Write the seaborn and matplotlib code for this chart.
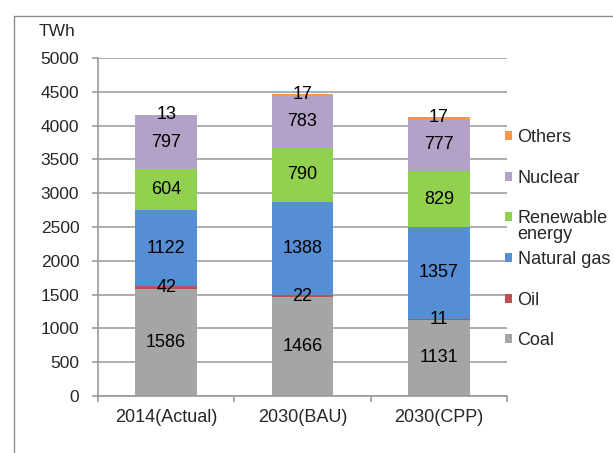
import numpy as np
import pandas as pd
import matplotlib
matplotlib.use("Agg")
import matplotlib.pyplot as plt
from matplotlib.patches import Patch
from matplotlib.lines import Line2D
import seaborn as sns

categories = ["2014(Actual)", "2030(BAU)", "2030(CPP)"]
coal = [1586, 1466, 1131]
oil = [42, 22, 11]
natural_gas = [1122, 1388, 1357]
renewable = [604, 790, 829]
nuclear = [797, 783, 777]
others = [13, 17, 17]

series_names = ["Coal", "Oil", "Natural gas", "Renewable energy", "Nuclear", "Others"]
series_values = [coal, oil, natural_gas, renewable, nuclear, others]
colors = ["#A5A5A5", "#C0504D", "#558ED5", "#92D050", "#B3A2C7", "#F79646"]
yticks = [0, 500, 1000, 1500, 2000, 2500, 3000, 3500, 4000, 4500, 5000]

sns.set_style("white")
plt.rcParams["font.family"] = ["Liberation Sans", "DejaVu Sans"]
plt.rcParams["font.size"] = 13

fig = plt.figure(figsize=(6.13, 4.53), dpi=100)
ax = fig.add_axes([98 / 613, 1 - 396 / 453, 409 / 613, 338 / 453])

bottom = np.zeros(len(categories))
for name, vals, col in zip(series_names, series_values, colors):
    vals = np.array(vals, dtype=float)
    sns.barplot(x=categories, y=vals, bottom=bottom, color=col, width=0.45,
                order=categories, ax=ax, saturation=1, linewidth=0, label=name)
    bottom = bottom + vals

for cont, vals in zip(ax.containers, series_values):
    ax.bar_label(cont, labels=[str(v) for v in vals], label_type="center",
                 fontsize=13, color="black")

ax.set_ylim(0, 5000)
ax.set_xlim(-0.5, 2.5)
ax.set_yticks(yticks)
ax.set_yticklabels([str(t) for t in yticks])
ax.set_xlabel("")
ax.set_ylabel("")
ax.yaxis.grid(True, color="#A0A0A0", linewidth=1.2)
ax.set_axisbelow(True)
for s in ["top", "right"]:
    ax.spines[s].set_visible(False)
for s in ["left", "bottom"]:
    ax.spines[s].set_color("#9A9A9A")
    ax.spines[s].set_linewidth(1.2)

ax.tick_params(axis="y", which="major", length=4.5, width=1.2, color="#9A9A9A",
               pad=9, labelsize=12.5, left=True)
ax.tick_params(axis="x", which="major", length=0, pad=9, labelsize=13)
ax.set_xticks([-0.5, 0.5, 1.5, 2.5], minor=True)
ax.tick_params(axis="x", which="minor", length=4.5, width=1.2, color="#9A9A9A",
               bottom=True)

fig.text(39 / 613, 1 - 31 / 453, "TWh", ha="left", va="center", fontsize=12.5)

# legend (reversed order)
handles = [Patch(facecolor=c, edgecolor="none") for c in colors][::-1]
labels = ["Others", "Nuclear", "Renewable", "Natural gas", "Oil", "Coal"]
leg = ax.legend(handles, labels, loc="upper left", bbox_to_anchor=(0.995, 0.79),
                frameon=False, borderpad=0, borderaxespad=0,
                handlelength=0.4, handleheight=0.4, handletextpad=0.3,
                labelspacing=1.31, fontsize=13)
leg.set_zorder(5)
ren_text = leg.get_texts()[2]
ax.annotate("energy", xy=(0, 0), xycoords=ren_text, xytext=(0, 1),
            textcoords="offset points", ha="left", va="top", fontsize=13,
            zorder=10, annotation_clip=False)

# outer frame of the figure (cropped on the right and bottom)
fig.add_artist(Line2D([13.5 / 613, 13.5 / 613], [0, 1 - 15.5 / 453],
                      transform=fig.transFigure, color="#8C8C8C", linewidth=1))
fig.add_artist(Line2D([13.5 / 613, 1], [1 - 15.5 / 453, 1 - 15.5 / 453],
                      transform=fig.transFigure, color="#8C8C8C", linewidth=1))

fig.savefig("out.png", dpi=100)
